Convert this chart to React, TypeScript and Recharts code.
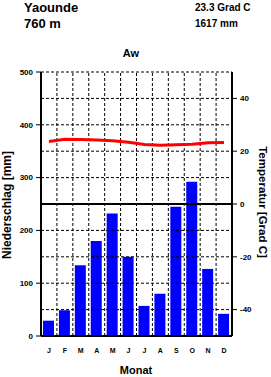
import React from 'react';
import { ComposedChart, Bar, Line, XAxis, YAxis, ReferenceLine } from 'recharts';

const months = ['J', 'F', 'M', 'A', 'M', 'J', 'J', 'A', 'S', 'O', 'N', 'D'];
const precipitation = [29, 49, 134, 180, 232, 150, 57, 80, 245, 292, 127, 42];
const temperature = [23.7, 24.5, 24.4, 24.2, 24.0, 23.4, 22.5, 22.3, 22.4, 22.6, 23.2, 23.3];
const precipTicks = [0, 100, 200, 300, 400, 500];
const tempTicks = [-40, -20, 0, 20, 40];
const dashedGrid = [50, 100, 150, 200, 300, 350, 400, 450, 500];
const solidGrid = [250];
const monthBoundaries = [1, 2, 3, 4, 5, 6, 7, 8, 9, 10, 11];

const data = months.map((m, i) => ({ idx: i, p: precipitation[i], t: temperature[i] }));

const FONT = '"Liberation Sans", Arial, sans-serif';
const tickStyle = { fontSize: 8, fontWeight: 700, fill: '#000', fontFamily: FONT };

export default function App() {
  return (
    <div style={{ position: 'absolute', left: 0, top: 0, width: 271, height: 377, background: '#fff' }}>
      <ComposedChart
        width={271}
        height={377}
        data={data}
        margin={{ top: 72, right: 0, bottom: 11, left: 0 }}
      >
        <XAxis
          xAxisId="cat"
          dataKey="idx"
          type="category"
          tickFormatter={(i: number) => months[i]}
          tickLine={false}
          axisLine={{ stroke: '#000', strokeWidth: 2 }}
          tick={{ ...tickStyle, fontSize: 7 }}
          tickSize={0}
          tickMargin={12}
          height={30}
          interval={0}
        />
        <XAxis xAxisId="grid" type="number" dataKey="idx" domain={[0, 12]} allowDataOverflow hide />
        <YAxis
          yAxisId="mm"
          orientation="left"
          domain={[0, 500]}
          ticks={precipTicks}
          width={41}
          tickSize={5}
          tickMargin={3}
          tick={tickStyle}
          axisLine={{ stroke: '#000', strokeWidth: 2 }}
          tickLine={{ stroke: '#000' }}
          interval={0}
        />
        <YAxis
          yAxisId="temp"
          orientation="right"
          domain={[-50, 50]}
          ticks={tempTicks}
          width={39}
          tickSize={5}
          tickMargin={3}
          tick={tickStyle}
          axisLine={{ stroke: '#000', strokeWidth: 2 }}
          tickLine={{ stroke: '#000' }}
          interval={0}
        />
        {dashedGrid.map((v) => (
          <ReferenceLine key={'h' + v} yAxisId="mm" xAxisId="cat" y={v} stroke="#000" strokeDasharray="3 2" strokeWidth={1} />
        ))}
        {solidGrid.map((v) => (
          <ReferenceLine key={'s' + v} yAxisId="mm" xAxisId="cat" y={v} stroke="#000" strokeWidth={2} />
        ))}
        {monthBoundaries.map((v) => (
          <ReferenceLine key={'v' + v} yAxisId="mm" xAxisId="grid" x={v} stroke="#000" strokeDasharray="3 2" strokeWidth={1} />
        ))}
        <Bar xAxisId="cat" yAxisId="mm" dataKey="p" fill="#0000ff" barSize={11} isAnimationActive={false} />
        <Line
          xAxisId="cat"
          yAxisId="temp"
          dataKey="t"
          type="linear"
          stroke="#ff0000"
          strokeWidth={3}
          dot={false}
          isAnimationActive={false}
        />
      </ComposedChart>
      <svg width={271} height={377} style={{ position: 'absolute', left: 0, top: 0, pointerEvents: 'none' }}>
        <g fontFamily={FONT} fontWeight={700} fill="#000">
          <text x={24} y={12} fontSize={13}>Yaounde</text>
          <text x={24} y={28} fontSize={13}>760 m</text>
          <text x={195} y={11} fontSize={10}>23.3 Grad C</text>
          <text x={195} y={27} fontSize={10}>1617 mm</text>
          <text x={131} y={57} fontSize={11} textAnchor="middle">Aw</text>
          <text x={136} y={374} fontSize={11} textAnchor="middle">Monat</text>
          <text x={11} y={205} fontSize={12} textAnchor="middle" transform="rotate(-90 11 205)">Niederschlag [mm]</text>
          <text x={259} y={202} fontSize={11.5} textAnchor="middle" transform="rotate(90 259 202)">Temperatur [Grad C]</text>
        </g>
      </svg>
    </div>
  );
}
